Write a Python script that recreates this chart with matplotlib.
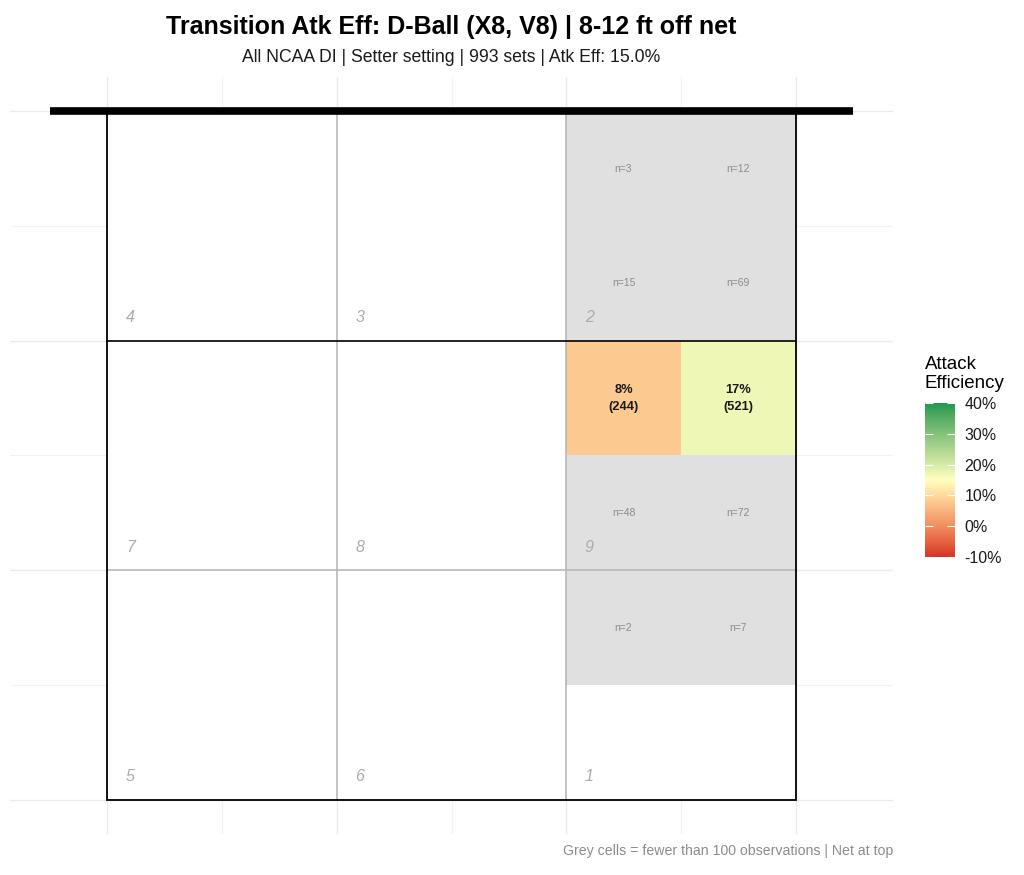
import numpy as np
import matplotlib.pyplot as plt
from matplotlib.patches import Rectangle
from matplotlib.colors import ListedColormap, Normalize
from matplotlib.cm import ScalarMappable

plt.rcParams['font.family'] = ['Liberation Sans', 'DejaVu Sans']

# cells (half-zone grid, x 0..5 left->right, y 0..5 bottom->top, net at top)
cell_x = [4, 5, 4, 5, 4, 5, 4, 5, 4, 5]
cell_y = [5, 5, 4, 4, 3, 3, 2, 2, 1, 1]
cell_n = [3, 12, 15, 69, 244, 521, 48, 72, 2, 7]
cell_eff = [None, None, None, None, 0.08, 0.17, None, None, None, None]
min_obs = 100

# zone numbers, bottom-left corner of each 2x2 zone
zone_num = [4, 3, 2, 7, 8, 9, 5, 6, 1]
zone_x0 = [0, 2, 4, 0, 2, 4, 0, 2, 4]
zone_y0 = [4, 4, 4, 2, 2, 2, 0, 0, 0]

eff_limits = (-0.1, 0.4)
eff_mid = 0.15
eff_breaks = [-0.1, 0.0, 0.1, 0.2, 0.3, 0.4]

title = "Transition Atk Eff: D-Ball (X8, V8) | 8-12 ft off net"
subtitle = "All NCAA DI | Setter setting | 993 sets | Atk Eff: 15.0%"
caption = "Grey cells = fewer than 100 observations | Net at top"


# gradient2-like colour scale, interpolated in Lab space
M = np.array([[0.4124, 0.3576, 0.1805], [0.2126, 0.7152, 0.0722], [0.0193, 0.1192, 0.9505]])
WHITE = np.array([0.95047, 1.0, 1.08883])


def hex_to_lab(h):
    rgb = np.array([int(h[i:i + 2], 16) for i in (1, 3, 5)]) / 255
    lin = np.where(rgb <= 0.04045, rgb / 12.92, ((rgb + 0.055) / 1.055) ** 2.4)
    xyz = M @ lin / WHITE
    f = np.where(xyz > 0.008856, np.cbrt(xyz), 7.787 * xyz + 16 / 116)
    return np.array([116 * f[1] - 16, 500 * (f[0] - f[1]), 200 * (f[1] - f[2])])


def lab_to_rgb(lab):
    fy = (lab[0] + 16) / 116
    f = np.array([fy + lab[1] / 500, fy, fy - lab[2] / 200])
    xyz = np.where(f ** 3 > 0.008856, f ** 3, (f - 16 / 116) / 7.787) * WHITE
    lin = np.linalg.solve(M, xyz)
    lin = np.clip(lin, 0, 1)
    rgb = np.where(lin <= 0.0031308, 12.92 * lin, 1.055 * lin ** (1 / 2.4) - 0.055)
    return np.clip(rgb, 0, 1)


low, mid, high = hex_to_lab("#D73027"), hex_to_lab("#FFFFBF"), hex_to_lab("#1A9850")
vals = np.linspace(eff_limits[0], eff_limits[1], 256)
cols = []
for v in vals:
    if v < eff_mid:
        t = (v - eff_limits[0]) / (eff_mid - eff_limits[0])
        cols.append(lab_to_rgb(low + (mid - low) * t))
    else:
        t = (v - eff_mid) / (eff_limits[1] - eff_mid)
        cols.append(lab_to_rgb(mid + (high - mid) * t))
cmap = ListedColormap(cols)
norm = Normalize(*eff_limits)

fig = plt.figure(figsize=(10.24, 8.75), dpi=100)
ax = fig.add_axes([10 / 1024, 40 / 875, 883 / 1024, 759 / 875])
ax.set_xlim(-0.85, 6.85)
ax.set_ylim(-0.3, 6.3)
ax.set_aspect('equal')

ax.set_xticks([0, 2, 4, 6])
ax.set_xticks([1, 3, 5], minor=True)
ax.set_yticks([0, 2, 4, 6])
ax.set_yticks([1, 3, 5], minor=True)
ax.grid(which='major', color='#EBEBEB', linewidth=1.0)
ax.grid(which='minor', color='#F2F2F2', linewidth=0.8)
ax.set_axisbelow(True)
ax.tick_params(which='both', length=0, labelbottom=False, labelleft=False)
for s in ax.spines.values():
    s.set_visible(False)

# court background
ax.add_patch(Rectangle((0, 0), 6, 6, facecolor='white', edgecolor='none', zorder=1))

for x, y, n, e in zip(cell_x, cell_y, cell_n, cell_eff):
    if n < min_obs or e is None:
        ax.add_patch(Rectangle((x, y), 1, 1, facecolor='#E0E0E0', edgecolor='none', zorder=2))
        ax.text(x + 0.5, y + 0.5, f"n={n}", ha='center', va='center', fontsize=7.5,
                color='#8C8C8C', zorder=5)
    else:
        ax.add_patch(Rectangle((x, y), 1, 1, facecolor=cmap(norm(e)), edgecolor='none', zorder=2))
        ax.text(x + 0.5, y + 0.5, f"{e * 100:.0f}%\n({n})", ha='center', va='center',
                fontsize=9.3, fontweight='bold', color='#1A1A1A', linespacing=1.55, zorder=5)

# court lines
ax.plot([2, 2], [0, 6], color='#B3B3B3', linewidth=1.1, zorder=3)
ax.plot([4, 4], [0, 6], color='#B3B3B3', linewidth=1.1, zorder=3)
ax.plot([0, 6], [2, 2], color='#B3B3B3', linewidth=1.1, zorder=3)
ax.plot([0, 6], [4, 4], color='black', linewidth=1.2, zorder=4)
ax.add_patch(Rectangle((0, 0), 6, 6, facecolor='none', edgecolor='black', linewidth=1.3, zorder=4))
ax.plot([-0.5, 6.5], [6, 6], color='black', linewidth=5.5, solid_capstyle='butt', zorder=6)

for z, x0, y0 in zip(zone_num, zone_x0, zone_y0):
    ax.text(x0 + 0.2, y0 + 0.2, str(z), ha='center', va='center', fontsize=11.5,
            style='italic', color='#ABABAB', zorder=5)

# legend colourbar
cax = fig.add_axes([925 / 1024, (875 - 557) / 875, 30 / 1024, 154 / 875])
cb = fig.colorbar(ScalarMappable(norm=norm, cmap=cmap), cax=cax, ticks=eff_breaks)
cb.outline.set_visible(False)
cb.set_ticklabels([f"{b * 100:.0f}%" for b in eff_breaks])
cax.tick_params(left=True, right=True, labelleft=False, labelright=True, direction='in',
                length=6, width=0.8, color='white', labelcolor='#1A1A1A', labelsize=11.5, pad=7)
fig.text(925 / 1024, (875 - 374) / 875, "Attack\nEfficiency", ha='left', va='center',
         fontsize=13.5, color='black', linespacing=1.15)

fig.text(451 / 1024, (875 - 27) / 875, title, ha='center', va='center', fontsize=18,
         fontweight='bold')
fig.text(451 / 1024, (875 - 58) / 875, subtitle, ha='center', va='center', fontsize=12.7,
         color='#1A1A1A')
fig.text(893 / 1024, (875 - 851) / 875, caption, ha='right', va='center', fontsize=10.2,
         color='#8C8C8C')

fig.savefig("out.png", dpi=100)
